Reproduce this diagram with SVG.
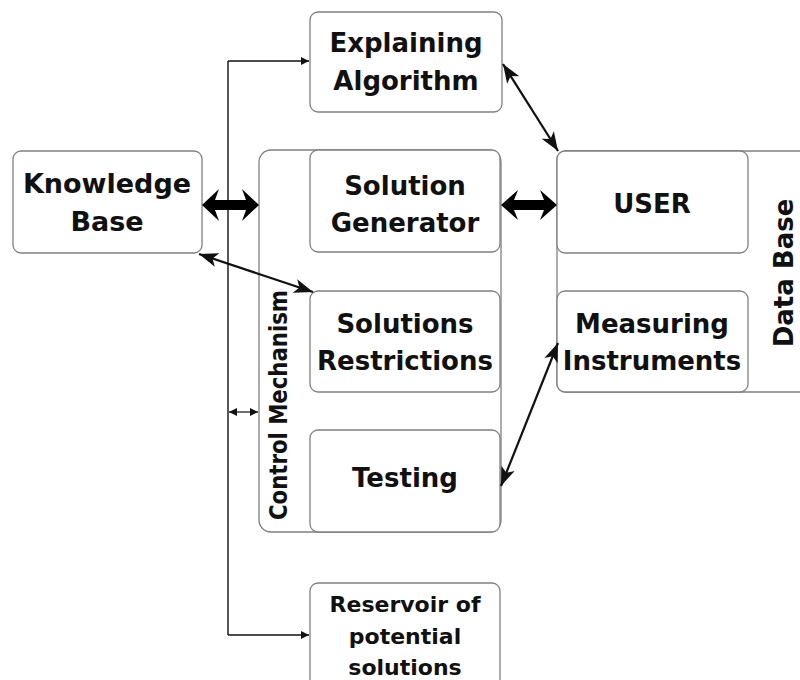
<svg xmlns="http://www.w3.org/2000/svg" width="800" height="680" viewBox="0 0 800 680">
<defs>
<style>
.box{fill:#fff;stroke:#808080;stroke-width:1.3}
.t{font-family:"DejaVu Sans","Liberation Sans",sans-serif;font-weight:bold;font-size:26px;fill:#111;text-anchor:middle}
.s{font-size:22px}
.ln{fill:none;stroke:#111;stroke-width:1.4}
.dg{fill:none;stroke:#111;stroke-width:2.2}
.blk{fill:#000}
</style>
<marker id="sm" viewBox="0 0 10 10" refX="10" refY="5" markerWidth="9" markerHeight="8" markerUnits="userSpaceOnUse" orient="auto-start-reverse"><path d="M0,0 L10,5 L0,10 Z" fill="#111"/></marker>
<marker id="bg" viewBox="0 0 16 12" refX="16" refY="6" markerWidth="19" markerHeight="15" markerUnits="userSpaceOnUse" orient="auto-start-reverse"><path d="M0,0 L16,6 L0,12 L4,6 Z" fill="#111"/></marker>
</defs>
<g id="knowledge-base"><rect class="box" x="13" y="151" width="189" height="102" rx="8"/><text class="t" x="107" y="193" style="font-size:27px">Knowledge</text><text class="t" x="107" y="231" style="font-size:27px">Base</text></g>
<g id="explaining-algorithm"><rect class="box" x="310" y="12" width="192" height="100" rx="8"/><text class="t" x="406" y="52">Explaining</text><text class="t" x="406" y="90">Algorithm</text></g>
<g id="control-mechanism"><rect class="box" x="259" y="150" width="242" height="382" rx="12"/><text class="t" transform="translate(287,405) rotate(-90)" style="font-size:24px" textLength="230" lengthAdjust="spacingAndGlyphs">Control Mechanism</text></g>
<g id="solution-generator"><rect class="box" x="310" y="150" width="190" height="102" rx="8"/><text class="t" x="405" y="195">Solution</text><text class="t" x="405" y="232">Generator</text></g>
<g id="solutions-restrictions"><rect class="box" x="310" y="291" width="190" height="101" rx="8"/><text class="t" x="405" y="333">Solutions</text><text class="t" x="405" y="370">Restrictions</text></g>
<g id="testing"><rect class="box" x="310" y="430" width="190" height="102" rx="8"/><text class="t" x="405" y="487">Testing</text></g>
<g id="data-base"><rect class="box" x="557" y="151" width="260" height="241" rx="8"/><text class="t" transform="translate(793,273) rotate(-90)">Data Base</text></g>
<g id="user"><rect class="box" x="557" y="151" width="191" height="102" rx="8"/><text class="t" x="652" y="213">USER</text></g>
<g id="measuring-instruments"><rect class="box" x="557" y="291" width="191" height="101" rx="8"/><text class="t" x="652" y="333">Measuring</text><text class="t" x="652" y="370">Instruments</text></g>
<g id="reservoir"><rect class="box" x="310" y="583" width="190" height="120" rx="8"/><text class="t s" x="405" y="612">Reservoir of</text><text class="t s" x="405" y="644">potential</text><text class="t s" x="405" y="675">solutions</text></g>
<g id="connectors">
<path class="ln" d="M228,61 V635"/>
<path class="ln" d="M228,61 H309" marker-end="url(#sm)"/>
<path class="ln" d="M228,635 H309" marker-end="url(#sm)"/>
<path class="ln" d="M229,412 H258" style="stroke-width:1.2" marker-start="url(#sm)" marker-end="url(#sm)"/>
<polygon class="blk" points="202,205 219,189 215,200 246,200 242,189 259,205 242,221 246,210 215,210 219,221"/>
<polygon class="blk" points="501,205 518,190 514,200 544,200 540,190 557,205 540,220 544,210 514,210 518,220"/>
<path class="dg" d="M199,254 L313,292" marker-start="url(#bg)" marker-end="url(#bg)"/>
<path class="dg" d="M503,64 L558,151" marker-start="url(#bg)" marker-end="url(#bg)"/>
<path class="dg" d="M501,486 L558,343" marker-start="url(#bg)" marker-end="url(#bg)"/>
</g>
</svg>
